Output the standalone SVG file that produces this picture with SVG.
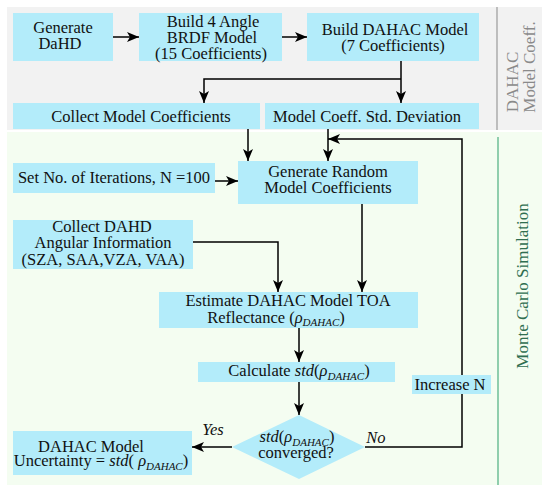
<svg xmlns="http://www.w3.org/2000/svg" width="550" height="492" viewBox="0 0 550 492">
<defs>
<marker id="ah" markerUnits="userSpaceOnUse" markerWidth="12" markerHeight="10" refX="12" refY="5" orient="auto">
<path d="M0,0 L12,5 L0,10 L3,5 z" fill="#000"/>
</marker>
<style>
.box{fill:#b3ecfa;}
.t{font-family:"Liberation Serif","Times New Roman",serif;font-size:16.5px;fill:#111;text-anchor:middle;}
.i{font-style:italic;}
.sub{font-style:italic;font-size:11px;}
.c{fill:none;stroke:#000;stroke-width:1.5;}
.ca{fill:none;stroke:#000;stroke-width:1.5;marker-end:url(#ah);}
.lg{font-family:"Liberation Serif","Times New Roman",serif;font-size:17px;fill:#8a8a8a;text-anchor:middle;}
.lm{font-family:"Liberation Serif","Times New Roman",serif;font-size:17px;fill:#2f6e50;text-anchor:middle;}
</style>
</defs>
<rect x="0" y="0" width="550" height="492" fill="#fff"/>
<g id="bg">
<rect x="7" y="7" width="535" height="123" fill="#f2f2f2"/>
<rect x="7" y="132" width="535" height="353" fill="#f4fdf1"/>
<line x1="497" y1="7" x2="497" y2="130" stroke="#9a9a9a" stroke-width="1.2"/>
<line x1="498" y1="137" x2="498" y2="485" stroke="#4caf80" stroke-width="1.2"/>
<text class="lg" transform="translate(518,82) rotate(-90)">DAHAC</text>
<text class="lg" transform="translate(535,67) rotate(-90)">Model Coeff.</text>
<text class="lm" transform="translate(528,286) rotate(-90)">Monte Carlo Simulation</text>
</g>
<g id="connectors">
<line class="ca" x1="113" y1="37" x2="139" y2="37"/>
<line class="ca" x1="282" y1="37" x2="307" y2="37"/>
<line class="ca" x1="401" y1="61" x2="401" y2="103"/>
<polyline class="ca" points="401,79 204,79 204,103"/>
<line class="ca" x1="248" y1="129" x2="248" y2="161"/>
<line class="ca" x1="328" y1="129" x2="328" y2="161"/>
<polyline class="ca" points="365,447 462,447 462,139 328,139"/>
<line class="ca" x1="215" y1="181" x2="238" y2="181"/>
<polyline class="ca" points="193,242 278,242 278,292"/>
<line class="ca" x1="362" y1="204" x2="362" y2="292"/>
<line class="ca" x1="299" y1="328" x2="299" y2="362"/>
<line class="ca" x1="299" y1="382" x2="299" y2="415"/>
<line class="ca" x1="232" y1="447" x2="192" y2="447"/>
<text class="t i" x="213" y="435">Yes</text>
<text class="t i" x="376" y="443">No</text>
</g>
<g id="n-generate">
<rect class="box" x="13" y="13" width="100" height="48"/>
<text class="t" x="63" y="33">Generate</text>
<text class="t" x="60" y="49">DaHD</text>
</g>
<g id="n-brdf">
<rect class="box" x="139" y="13" width="143" height="48"/>
<text class="t" x="213" y="26.5">Build 4 Angle</text>
<text class="t" x="212" y="43">BRDF Model</text>
<text class="t" x="211" y="58.5">(15 Coefficients)</text>
</g>
<g id="n-dahac">
<rect class="box" x="307" y="13" width="172" height="48"/>
<text class="t" x="395" y="35">Build DAHAC Model</text>
<text class="t" x="393" y="51">(7 Coefficients)</text>
</g>
<g id="n-collect">
<rect class="box" x="13" y="103" width="247" height="26"/>
<text class="t" x="141" y="122">Collect Model Coefficients</text>
</g>
<g id="n-stddev">
<rect class="box" x="265" y="103" width="214" height="26"/>
<text class="t" x="367" y="122">Model Coeff. Std. Deviation</text>
</g>
<g id="n-setn">
<rect class="box" x="13" y="163" width="202" height="30"/>
<text class="t" x="114" y="182.5">Set No. of Iterations, N =100</text>
</g>
<g id="n-random">
<rect class="box" x="238" y="161" width="180" height="43"/>
<text class="t" x="328" y="176.5">Generate Random</text>
<text class="t" x="328" y="193">Model Coefficients</text>
</g>
<g id="n-angular">
<rect class="box" x="13" y="220" width="180" height="49"/>
<text class="t" x="102" y="231.5">Collect DAHD</text>
<text class="t" x="103" y="248">Angular Information</text>
<text class="t" x="103" y="264.5">(SZA, SAA,VZA, VAA)</text>
</g>
<g id="n-estimate">
<rect class="box" x="159" y="292" width="259" height="36"/>
<text class="t" x="288" y="306">Estimate DAHAC Model TOA</text>
<text class="t" x="276" y="322.5">Reflectance (<tspan class="i">ρ</tspan><tspan class="sub" dy="3.5">DAHAC</tspan><tspan dy="-3.5">)</tspan></text>
</g>
<g id="n-calc">
<rect class="box" x="198" y="362" width="197" height="20"/>
<text class="t" x="299" y="376">Calculate <tspan class="i">std</tspan>(<tspan class="i">ρ</tspan><tspan class="sub" dy="3.5">DAHAC</tspan><tspan dy="-3.5">)</tspan></text>
</g>
<g id="n-increase">
<rect class="box" x="412" y="375" width="79" height="19"/>
<text class="t" x="450" y="390">Increase N</text>
</g>
<g id="n-converged">
<polygon class="box" points="299,415 365,447 299,479 232,447"/>
<text class="t" x="297" y="442"><tspan class="i">std</tspan>(<tspan class="i">ρ</tspan><tspan class="sub" dy="3.5">DAHAC</tspan><tspan dy="-3.5">)</tspan></text>
<text class="t" x="296" y="458">converged?</text>
</g>
<g id="n-uncertainty">
<rect class="box" x="13" y="431" width="179" height="44"/>
<text class="t" x="91" y="451.5">DAHAC Model</text>
<text class="t" x="101" y="466">Uncertainty = <tspan class="i">std</tspan>( <tspan class="i">ρ</tspan><tspan class="sub" dy="3.5">DAHAC</tspan><tspan dy="-3.5">)</tspan></text>
</g>
</svg>
